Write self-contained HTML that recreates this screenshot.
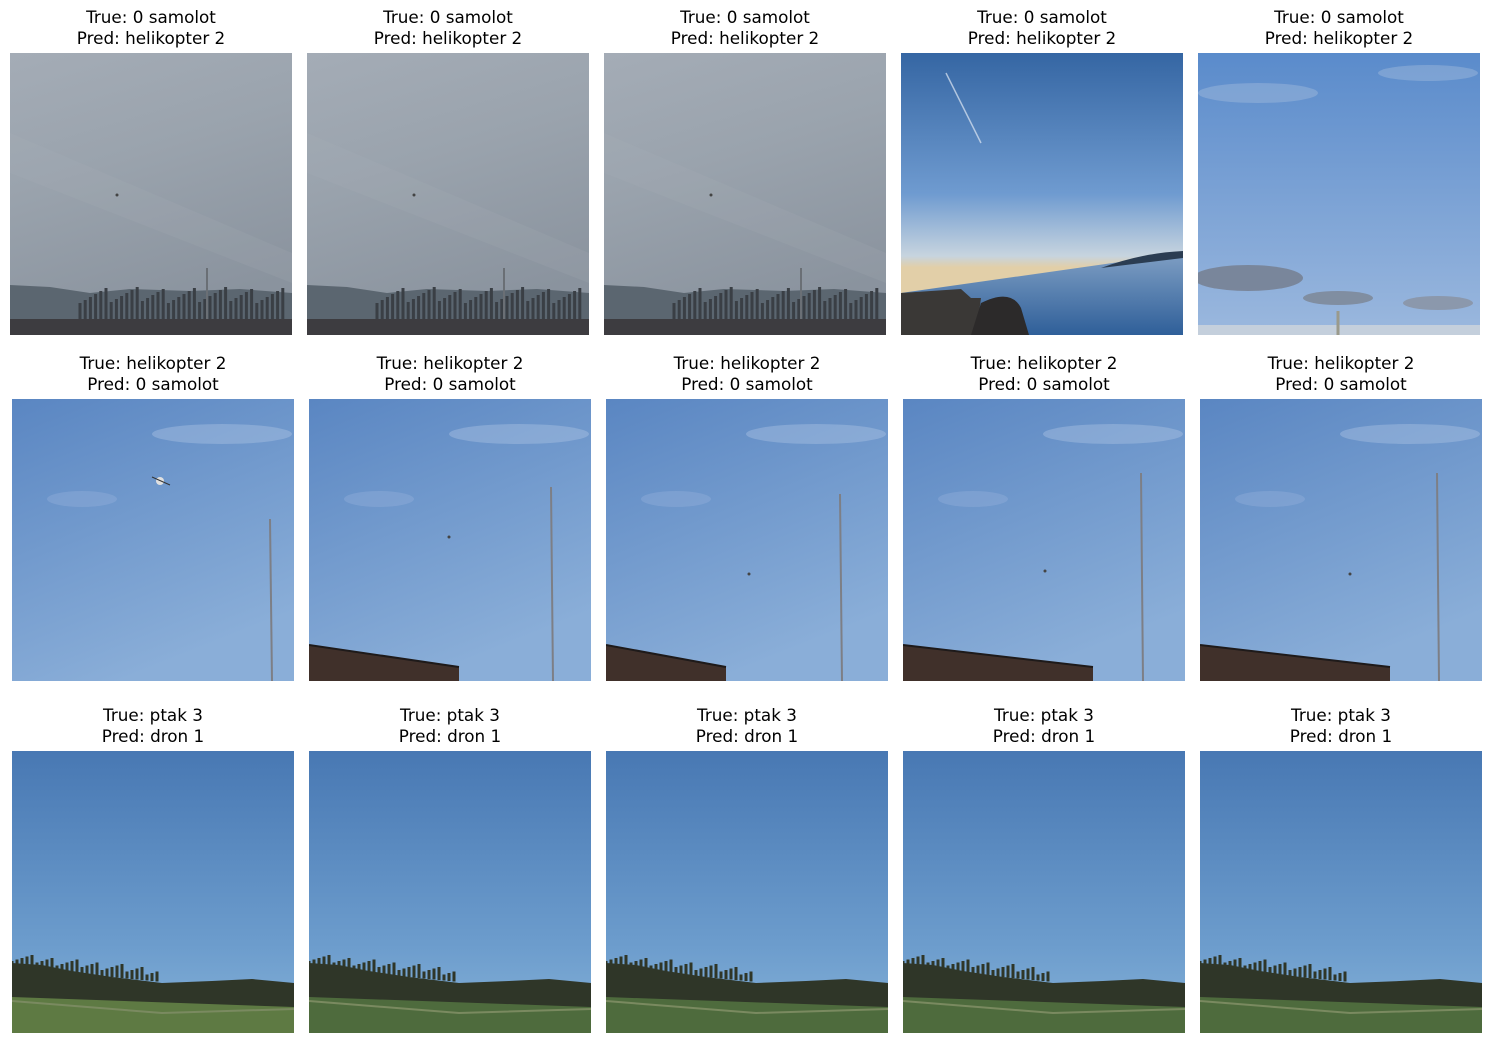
<!DOCTYPE html>
<html><head><meta charset="utf-8">
<style>
html,body{margin:0;padding:0;background:#fff;}
body{width:1490px;height:1039px;position:relative;overflow:hidden;font-family:"DejaVu Sans","Liberation Sans",sans-serif;}
.t{position:absolute;width:300px;text-align:center;font-size:16.8px;line-height:21px;color:#000;}
.im{position:absolute;width:282px;height:282px;}
svg{display:block}
</style></head><body>
<div id="root"></div>
<svg width="0" height="0" style="position:absolute">
<defs>
<linearGradient id="grey" x1="0" y1="0" x2="0.3" y2="1"><stop offset="0" stop-color="#a4acb6"/><stop offset="0.45" stop-color="#9aa3ad"/><stop offset="1" stop-color="#8a939e"/></linearGradient>
<linearGradient id="sunset" x1="0" y1="0" x2="0" y2="1"><stop offset="0" stop-color="#3566a3"/><stop offset="0.5" stop-color="#6f9bd0"/><stop offset="0.72" stop-color="#c7d4df"/><stop offset="0.76" stop-color="#e2cfa8"/></linearGradient>
<linearGradient id="water" x1="0" y1="0" x2="0" y2="1"><stop offset="0" stop-color="#7f9fc4"/><stop offset="1" stop-color="#2f5f99"/></linearGradient>
<linearGradient id="sky5" x1="0" y1="0" x2="0" y2="1"><stop offset="0" stop-color="#5a8bcb"/><stop offset="1" stop-color="#9bb8de"/></linearGradient>
<linearGradient id="sky2" x1="0" y1="0" x2="0.4" y2="1"><stop offset="0" stop-color="#5a86c2"/><stop offset="1" stop-color="#8aaed8"/></linearGradient>
<linearGradient id="sky3" x1="0" y1="0" x2="0" y2="1"><stop offset="0" stop-color="#4878b3"/><stop offset="0.7" stop-color="#6d9dcd"/><stop offset="1" stop-color="#86b2d8"/></linearGradient>
</defs></svg>
<script>
const titlesTrue=["0 samolot","helikopter 2","ptak 3"];
const titlesPred=["helikopter 2","0 samolot","dron 1"];
const rowsY=[53,399,751];
const colsX=[[10,307,604,901,1198],[12,309,606,903,1200],[12,309,606,903,1200]];
const titleY=[7,353,705];
function trees(y0){let s='';for(let i=0;i<40;i++){const x=70+i*5.2, h=18+((i*37)%17);s+=`<line x1="${x}" y1="${y0}" x2="${x}" y2="${y0-h}" stroke="#3a3f45" stroke-width="3"/>`;}return s;}
function scene(r,c){
 if(r===0){
  if(c<3) return `<rect width="282" height="282" fill="url(#grey)"/>
   <path d="M0,80 L282,200 L282,230 L0,120Z" fill="#b0b4bb" opacity="0.15"/>
   <path d="M0,232 L40,234 L80,240 L120,236 L180,238 L230,236 L282,240 L282,282 L0,282Z" fill="#5b6670"/>
   ${trees(268)}
   <line x1="197" y1="268" x2="197" y2="215" stroke="#6a6f75" stroke-width="2"/>
   <rect x="0" y="266" width="282" height="16" fill="#3d3c40"/><circle cx="107" cy="142" r="1.5" fill="#444"/>`;
  if(c===3) return `<rect width="282" height="282" fill="url(#sunset)"/>
   <line x1="45" y1="20" x2="80" y2="90" stroke="#dfe8f4" stroke-width="1.5" opacity="0.7"/>
   <path d="M0,240 L282,200 L282,282 L0,282Z" fill="url(#water)"/>
   <path d="M200,215 Q240,200 282,198 L282,205 Z" fill="#2b3d52"/>
   <path d="M0,240 L60,236 L70,245 L80,245 L75,282 L0,282Z" fill="#3a3836"/>
   <path d="M80,250 Q110,235 120,255 L128,282 L70,282Z" fill="#2c2a2a"/>`;
  return `<rect width="282" height="282" fill="url(#sky5)"/>
   <ellipse cx="60" cy="40" rx="60" ry="10" fill="#a9c0df" opacity="0.4"/>
   <ellipse cx="230" cy="20" rx="50" ry="8" fill="#a9c0df" opacity="0.4"/>
   <ellipse cx="50" cy="225" rx="55" ry="13" fill="#767f8f" opacity="0.85"/>
   <ellipse cx="140" cy="245" rx="35" ry="7" fill="#7d8796" opacity="0.85"/>
   <ellipse cx="240" cy="250" rx="35" ry="7" fill="#8a93a3" opacity="0.85"/>
   <rect x="0" y="272" width="282" height="10" fill="#c4cfdc"/>
   <line x1="140" y1="258" x2="140" y2="282" stroke="#9a9a8c" stroke-width="3"/>`;
 }
 if(r===1){
  const poleX=[258,242,234,238,237][c], poleTop=[120,88,95,74,74][c];
  let s=`<rect width="282" height="282" fill="url(#sky2)"/>
   <ellipse cx="210" cy="35" rx="70" ry="10" fill="#a8c0e2" opacity="0.45"/>
   <ellipse cx="70" cy="100" rx="35" ry="8" fill="#90aed9" opacity="0.45"/>
   <line x1="${poleX}" y1="${poleTop}" x2="${poleX+2}" y2="282" stroke="#7d7f86" stroke-width="2"/>`;
  if(c===0) s+=`<circle cx="148" cy="82" r="4" fill="#e0e0e0"/><line x1="140" y1="78" x2="158" y2="86" stroke="#333"/>`;
  else {
   const bw=[0,150,120,190,190][c];
   s+=`<path d="M0,246 L${bw},268 L${bw},282 L0,282Z" fill="#40302a"/><line x1="0" y1="246" x2="${bw}" y2="268" stroke="#1e1a1a" stroke-width="2"/>`;
   s+=`<circle cx="${[0,140,143,142,150][c]}" cy="${[0,138,175,172,175][c]}" r="1.5" fill="#444"/>`;
  }
  return s;
 }
 const green=c===0?"#5e7a43":"#4e6b3d";
 let tr='';for(let i=0;i<30;i++){const x=i*5, h=6+((i*29)%9);tr+=`<line x1="${x}" y1="${216+i*0.5}" x2="${x}" y2="${216+i*0.5-h}" stroke="#2f3628" stroke-width="3"/>`;}
 return `<rect width="282" height="282" fill="url(#sky3)"/>
  ${tr}
  <path d="M0,212 L30,214 L60,220 L100,226 L150,232 L200,230 L240,228 L282,232 L282,258 L0,248Z" fill="#2f3628"/>
  <path d="M0,246 L282,256 L282,282 L0,282Z" fill="${green}"/>
  <path d="M0,250 L150,262 L282,258" stroke="#7a8a60" stroke-width="2" fill="none"/>`;
}
const root=document.getElementById('root');
for(let r=0;r<3;r++){for(let c=0;c<5;c++){
 const x=colsX[r][c];
 const t=document.createElement('div');
 t.className='t';t.style.left=(x+141-150)+'px';t.style.top=titleY[r]+'px';
 t.innerHTML='True: '+titlesTrue[r]+'<br>Pred: '+titlesPred[r];
 
 
 root.appendChild(t);
 const d=document.createElement('div');
 d.className='im';d.style.left=x+'px';d.style.top=rowsY[r]+'px';
 d.innerHTML='<svg width="282" height="282" viewBox="0 0 282 282">'+scene(r,c)+'</svg>';
 
 
 root.appendChild(d);
}}
</script>
</body></html>
